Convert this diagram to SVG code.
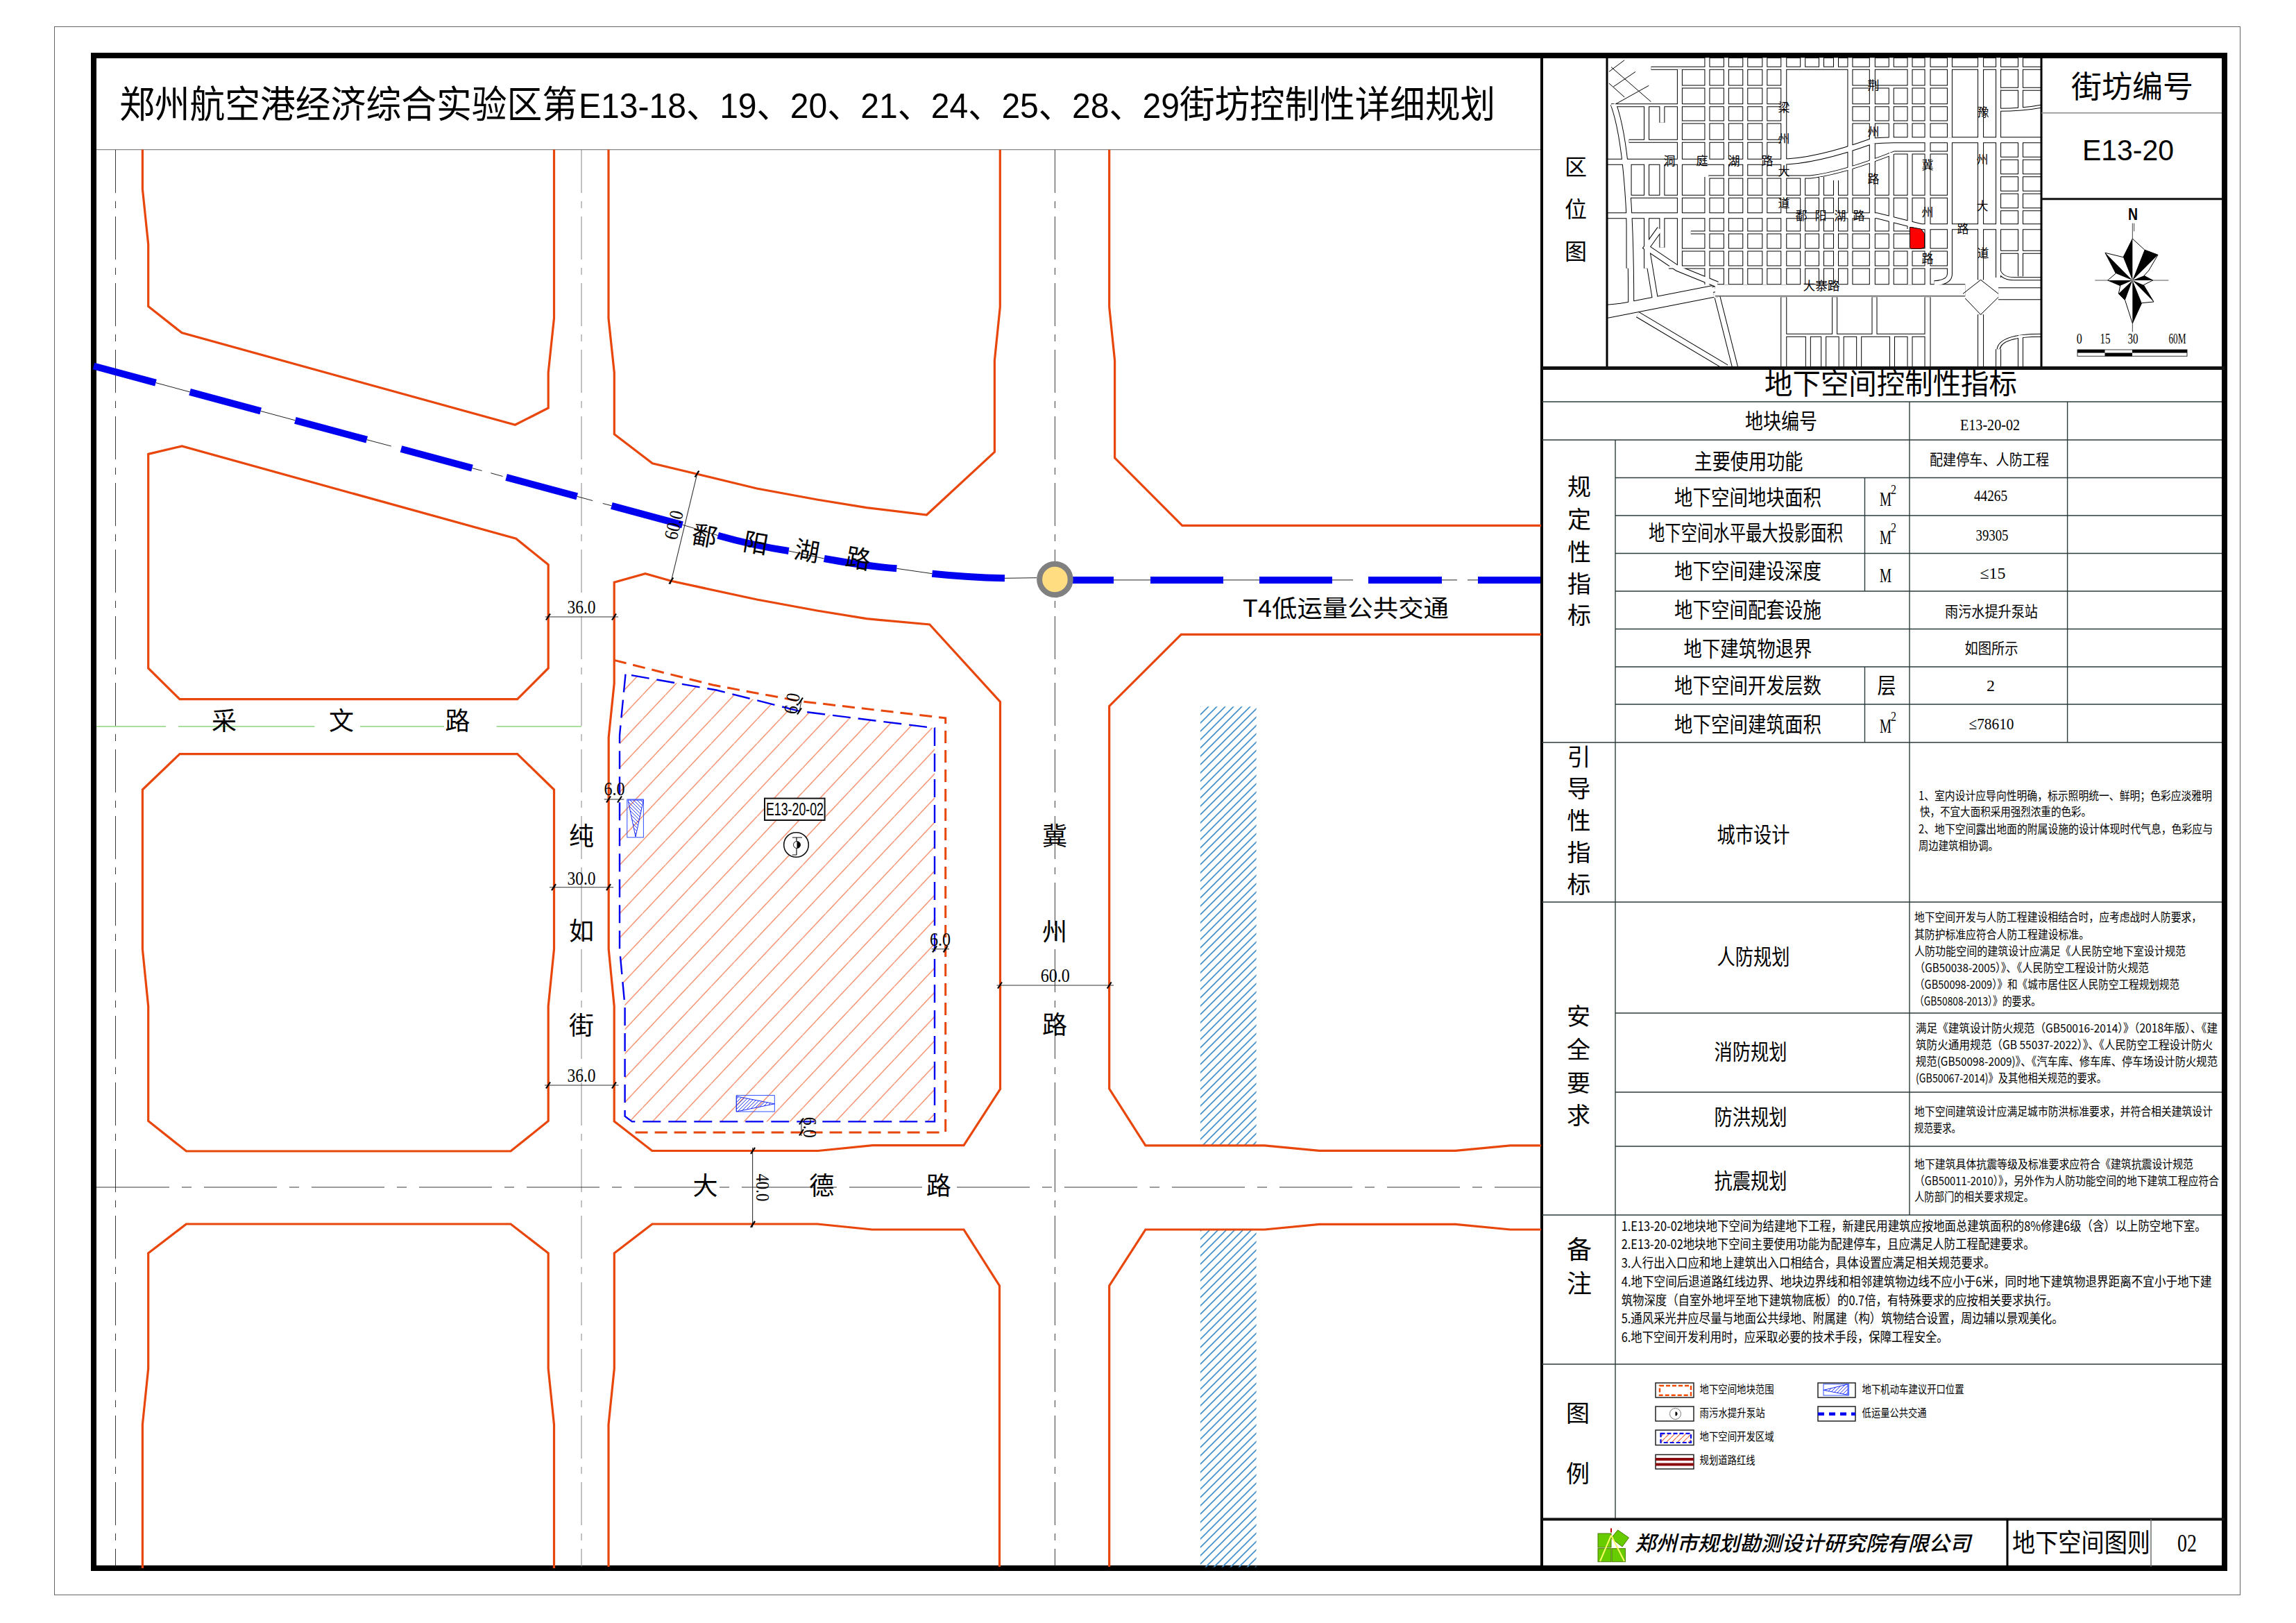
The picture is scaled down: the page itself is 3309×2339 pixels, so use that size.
<svg xmlns="http://www.w3.org/2000/svg" xmlns:xlink="http://www.w3.org/1999/xlink" width="3309" height="2339" viewBox="0 0 3309 2339">
<style>
text{font-family:"Noto Sans CJK SC","Liberation Sans",sans-serif;fill:#000}
.c{text-anchor:middle}
.n{font-family:"Liberation Serif","Noto Sans CJK SC",serif}
.road{font-size:36px;text-anchor:middle}
.dim{font-family:"Liberation Serif",serif;font-size:28px;text-anchor:middle}
.lab{font-size:31px;text-anchor:middle}
.val{font-size:21.5px;text-anchor:middle}
.num{font-family:"Liberation Serif","Noto Sans CJK SC",serif;font-size:24px;text-anchor:middle}
.side{font-size:34px;text-anchor:middle}
.body{font-size:17px}
.note{font-size:19px}
.leg{font-size:16px}
.unit{font-family:"Liberation Serif",serif;font-size:29px}
.sup{font-family:"Liberation Serif",serif;font-size:18px}
.red{fill:none;stroke:#e8460a;stroke-width:3.2;stroke-linejoin:miter}
.cl{fill:none;stroke:#222;stroke-width:0.9}
.tl{fill:none;stroke:#2b3a3a;stroke-width:1.4}
.blue{fill:none;stroke:#0000f0;stroke-width:10}
.thin{fill:none;stroke:#222;stroke-width:1}
.dl{fill:none;stroke:#333;stroke-width:1.1}
.box{fill:#fff;stroke:#222;stroke-width:1.5}
</style>
<defs>
<pattern id="hOrange" width="33" height="35" patternUnits="userSpaceOnUse" patternTransform="translate(893,1211.6)"><path d="M-3.3,38.5L36.3,-3.5" stroke="#f0683a" stroke-width="1.1" fill="none"/></pattern>
<pattern id="hOrangeS" width="8" height="8" patternUnits="userSpaceOnUse"><path d="M-1,9L9,-1" stroke="#f0683a" stroke-width="1.2" fill="none"/></pattern>
<pattern id="hBlue" width="12" height="12" patternUnits="userSpaceOnUse"><path d="M-1,13L13,-1M-3,3L3,-3M9,15L15,9" stroke="#3f8fc8" stroke-width="1.6" fill="none"/></pattern>
<pattern id="hRamp" width="5" height="5" patternUnits="userSpaceOnUse"><path d="M-1,6L6,-1" stroke="#1a2cff" stroke-width="0.9" fill="none"/></pattern>
<pattern id="hRampB" width="5" height="5" patternUnits="userSpaceOnUse"><path d="M-1,-1L6,6" stroke="#1a2cff" stroke-width="0.9" fill="none"/></pattern>
<path id="t" d="M-3,4.5L3,-4.5" stroke="#000" stroke-width="2.2" fill="none"/>
<path id="mH" vector-effect="non-scaling-stroke" fill="none" d="M250,85H1132M320,165H548M700,165H925M1040,175H1132M160,245H548M700,245H925M1035,265Q1090,265 1132,250M320,318H548M700,318H925M200,400H548M380,555H610Q680,540 800,450H925M200,640H925M1035,475H1132M1035,548H1132M1035,622H1132M1035,695H1132M340,795H838M320,870H925M1035,880H1132M290,945H925M555,1240H870M1035,950Q1040,995 1070,995H1132M1132,1240Q1040,1240 1035,1300"/>
<path id="mV" vector-effect="non-scaling-stroke" fill="none" d="M315,90V950M377,40V490M377,555V1020M420,40V1020M463,40V1020M507,40V1020M593,40V85M593,555V1030M635,40V85M635,555V1030M668,40V85M668,570V1030M700,40V1030M793,40V85M793,165V395M793,450V1030M835,40V395M835,450V780M835,870V1020M925,40V385M925,405V975Q925,1010 890,1015M1035,40V990M1085,40V260M1085,400V985M665,1075V1240M755,1075V1240M605,1240V1378M640,1240V1378M680,1240V1378M720,1240V1378M795,1240V1378M835,1240V1378M1035,1300V1378M1085,1240V1378M240,245V400M275,245V320M240,490V640M275,490V640M200,490V640M200,720V950M240,720V950M275,720V860"/>
<path id="mM" vector-effect="non-scaling-stroke" fill="none" d="M150,490H540Q620,490 750,400Q770,395 800,395H1132M150,722H760L860,770H1132M550,40V1020M550,1075V1378M750,40V1030M875,40V1030M875,1075V1378M995,40V1000M995,1150V1378M165,240Q205,450 205,1110M150,1150L395,1040M400,1075L440,1378M220,1150L420,1378M270,780L240,860L310,950L400,1020M150,1120L215,1108M240,860L260,1090"/>
<path id="mW" vector-effect="non-scaling-stroke" fill="none" d="M395,1045H960M1035,1060H1132M150,1140L390,1050"/>
</defs>
<rect width="3309" height="2339" fill="#fff"/>

<g id="frame">
<rect x="78.5" y="38.5" width="3150" height="2260" fill="none" stroke="#666" stroke-width="1"/>
<rect x="135" y="80" width="3071" height="2180" fill="none" stroke="#000" stroke-width="8"/>
<path d="M139,215.6H2222" stroke="#888" stroke-width="1.4" fill="none"/>
<path d="M2222,80V2260" stroke="#000" stroke-width="4" fill="none"/>
</g>
<text id="title" y="170" font-size="54"><tspan x="172" textLength="660" lengthAdjust="spacingAndGlyphs">郑州航空港经济综合实验区第</tspan><tspan x="834" textLength="866" lengthAdjust="spacingAndGlyphs" font-size="50" style="font-family:'Liberation Sans','Noto Sans CJK SC',sans-serif">E13-18、19、20、21、24、25、28、29</tspan><tspan x="1700" textLength="455" lengthAdjust="spacingAndGlyphs">街坊控制性详细规划</tspan></text>

<g id="map">
<rect x="1730" y="1018.3" width="80.6" height="632.5" fill="url(#hBlue)"/>
<rect x="1730" y="1772" width="80.6" height="486.5" fill="url(#hBlue)"/>
<g id="centerlines">
<path class="cl" d="M166.5,216V2258" stroke-dasharray="62 12 10 12"/>
<path class="cl" d="M838,216V2258" style="stroke:#777" stroke-dasharray="62 12 10 12"/>
<path class="cl" d="M1520.4,216V2258" stroke-dasharray="62 12 10 12"/>
<path class="cl" d="M139,1711H2220" stroke-dasharray="105 18 14 18"/>
<path fill="none" stroke="#55c03a" stroke-width="1.1" d="M139,1047H239M257,1047H453.5M519,1047H640M715.6,1047H838"/>
</g>
<g id="blocks">
<path class="red" d="M205.4,215.6V272.4L213.7,352V441.4L262,479.6L742.4,612.3L790.2,588V537L798.5,458.6V215.6"/>
<path class="red" d="M213.7,654.4L262.2,643L743.7,776.2L790.2,813.8V963L745.6,1007.7H259L213.7,963Z"/>
<path class="red" d="M259,1086.6H745.6L798.5,1138V1368L790.2,1450V1615.6L736,1659H268.5L213.7,1615.6V1450L205.4,1368V1138Z"/>
<path class="red" d="M205.4,2260V2053L213.7,1972.5V1806L268.5,1764H736L790.2,1806V1972.5L798.5,2053V2260"/>
<path class="red" d="M877,215.6V458.6L885.3,537V625.7L940.3,667.7L1004,683L1090.8,704L1177.6,720L1249,731.7L1335.5,742L1433.4,651.4V519.5L1441.3,442.3V215.7"/>
<path class="red" d="M1598.7,215.7V442.3L1606.6,519.5V659.8L1703.8,757.3H2221"/>
<path class="red" d="M885.2,953V839.3L930,826.7L967.3,837.3L1090.8,864L1177.6,880L1249,891.7L1339.8,900L1441.5,1011.4V1569.5L1389,1650.6H1257.5L1179,1658.5H939.8L885.2,1616V1450L877.2,1368V1062.5L885.2,984.8Z"/>
<path class="red" d="M2221,914.4H1702.3L1598.7,1017.6V1569L1650.9,1650.8H1822.5L1901.5,1658.4H2097.7L2176.7,1650.8H2221"/>
<path class="red" d="M877,2258V2053L885.3,1972.5V1806L940,1764H1178L1257,1772H1389L1440.5,1853V2258"/>
<path class="red" d="M1598.7,2258V1853L1650.9,1772H1822.5L1901.5,1764.3H2097.7L2176.7,1772H2221"/>
</g>
<g id="site">
<path d="M901.5,971.7L896.2,1026L893,1060V1367.8L900.6,1450V1608.7L910.9,1616.4H1347V1049.3L1152.9,1025L1032.3,994.5Z" fill="url(#hOrange)"/>
<path d="M885,951.4L1027.9,987.3L1152.9,1010.5L1362.7,1034.8V1632H907.3" fill="none" stroke="#e8460a" stroke-width="3" stroke-dasharray="18 10"/>
<path d="M901.5,971.7L896.2,1026L893,1060V1367.8L900.6,1450V1608.7L910.9,1616.4H1347V1049.3L1152.9,1025L1032.3,994.5Z" fill="none" stroke="#0000f0" stroke-width="2.4" stroke-dasharray="26 11"/>
<rect x="903.8" y="1152" width="23.6" height="54.8" fill="none" stroke="#3050ff" stroke-width="1"/>
<path d="M905,1153H927.4L916,1206Z" fill="url(#hRampB)" stroke="#1a2cff" stroke-width="1"/>
<rect x="1061.3" y="1578.6" width="55" height="23.4" fill="none" stroke="#3050ff" stroke-width="1"/>
<path d="M1061.3,1580L1116.3,1590.8L1061.3,1602Z" fill="url(#hRamp)" stroke="#1a2cff" stroke-width="1"/>
<rect x="1102" y="1150.6" width="86.6" height="31.4" fill="#fff" stroke="#111" stroke-width="2"/>
<text x="1104" y="1175" font-size="25" textLength="83" lengthAdjust="spacingAndGlyphs" style="font-family:'Liberation Sans',sans-serif">E13-20-02</text>
<circle cx="1147.5" cy="1217.5" r="17.8" fill="#fff" stroke="#111" stroke-width="1.6"/>
<path d="M1142,1207H1156M1148,1207V1232M1142,1232H1148" stroke="#111" stroke-width="1.2" fill="none"/>
<circle cx="1148.5" cy="1217.5" r="5" fill="#fff" stroke="#111" stroke-width="1"/>
<path d="M1148.5,1212.5A5,5 0 0 1 1148.5,1222.5Z" fill="#000"/>
</g>
<g id="transit">
<path class="thin" d="M224.5,551.6L273.6,564.9M375.7,592.4L425.4,605.8M528.7,633.7L563.8,643M680.5,674.6L694.6,678.4M707.3,681.7L724.5,686.5M831.7,715.4L854,721.5M868.7,725.5L881.4,728.8M983.5,756.3L1034.7,771.7M1136.7,794L1187.8,805M1292.3,819.3L1343.4,826.7M1448,833.3L1494,832.7M1605,835.9H1658M1763,835.9H1815M1920,835.9H1950M2078,835.9H2100M2115,835.9H2130"/>
<path class="blue" d="M135,527.5L224.5,551.6M273.6,564.9L375.7,592.4M425.4,605.8L528.7,633.7M578,647L680.5,674.6M729.6,687.9L831.7,715.4M881.4,728.8L983.5,756.3M1034.7,771.7Q1085,786 1136.7,794M1187.8,805Q1240,815 1292.3,819.3M1343.4,826.7Q1394,832 1448,833.3M1545,835.9H1605M1658,835.9H1763M1815,835.9H1920M1972,835.9H2078M2130,835.9H2220"/>
<circle cx="1520.4" cy="835" r="22.3" fill="#ffdd80" stroke="#808080" stroke-width="8"/>
<text x="1791" y="889" font-size="34" textLength="297" lengthAdjust="spacingAndGlyphs">T4低运量公共交通</text>
</g>
<g id="road-labels">
<text class="road" x="323" y="1052">采</text><text class="road" x="492" y="1052">文</text><text class="road" x="659.5" y="1052">路</text>
<text class="road" x="838" y="1218">纯</text><text class="road" x="838" y="1355">如</text><text class="road" x="838" y="1491">街</text>
<text class="road" x="1520" y="1218">冀</text><text class="road" x="1520" y="1356">州</text><text class="road" x="1520" y="1490">路</text>
<text class="road" x="1016.6" y="1722">大</text><text class="road" x="1184.3" y="1722">德</text><text class="road" x="1352.7" y="1722">路</text>
<text class="road" transform="translate(1015.3,772.3) rotate(10)" y="13">鄱</text>
<text class="road" transform="translate(1089.3,782.7) rotate(10)" y="13">阳</text>
<text class="road" transform="translate(1163,794) rotate(10)" y="13">湖</text>
<text class="road" transform="translate(1237,805) rotate(10)" y="13">路</text>
</g>
<g id="dimensions">
<path class="dl" d="M785.8,889H891M792,1278.7H884M785,1564H891.6M870.7,1152H899.3M1342.6,1367.8H1368M1155,1009L1152,1026M1155,1612.5V1637M1005.6,679.3L966.3,841.7M1436.5,1420H1605M1084.6,1654V1768.8"/>
<use xlink:href="#t" href="#t" x="790" y="889"/><use xlink:href="#t" href="#t" x="885" y="889"/>
<use xlink:href="#t" href="#t" x="798" y="1278.7"/><use xlink:href="#t" href="#t" x="877" y="1278.7"/>
<use xlink:href="#t" href="#t" x="790" y="1564"/><use xlink:href="#t" href="#t" x="885" y="1564"/>
<use xlink:href="#t" href="#t" x="877" y="1152"/><use xlink:href="#t" href="#t" x="893" y="1152"/>
<use xlink:href="#t" href="#t" x="1347" y="1367.8"/><use xlink:href="#t" href="#t" x="1362.7" y="1367.8"/>
<use xlink:href="#t" href="#t" x="1154" y="1010"/><use xlink:href="#t" href="#t" x="1152" y="1025"/>
<use xlink:href="#t" href="#t" x="1155" y="1616"/><use xlink:href="#t" href="#t" x="1155" y="1632"/>
<use xlink:href="#t" href="#t" x="1004.5" y="683"/><use xlink:href="#t" href="#t" x="967.3" y="837"/>
<use xlink:href="#t" href="#t" x="1441" y="1420"/><use xlink:href="#t" href="#t" x="1598.7" y="1420"/>
<use xlink:href="#t" href="#t" x="1085" y="1658.4"/><use xlink:href="#t" href="#t" x="1085" y="1764.3"/>
<text class="dim" x="838" y="884" textLength="41" lengthAdjust="spacingAndGlyphs">36.0</text>
<text class="dim" x="838" y="1274.7" textLength="41" lengthAdjust="spacingAndGlyphs">30.0</text>
<text class="dim" x="838" y="1559" textLength="41" lengthAdjust="spacingAndGlyphs">36.0</text>
<text class="dim" x="885.6" y="1146" textLength="30" lengthAdjust="spacingAndGlyphs">6.0</text>
<text class="dim" x="1355" y="1363" textLength="30" lengthAdjust="spacingAndGlyphs">6.0</text>
<text class="dim" x="1520.8" y="1414.8" textLength="42" lengthAdjust="spacingAndGlyphs">60.0</text>
<text class="dim" transform="translate(1141.7,1014) rotate(-80)" y="9" textLength="30" lengthAdjust="spacingAndGlyphs">6.0</text>
<text class="dim" transform="translate(1167,1624.7) rotate(90)" y="9" textLength="30" lengthAdjust="spacingAndGlyphs">6.0</text>
<text class="dim" transform="translate(971.4,756.7) rotate(-76.5)" y="9" textLength="42" lengthAdjust="spacingAndGlyphs">60.0</text>
<text class="dim" transform="translate(1098.9,1711.4) rotate(90)" y="9" textLength="40" lengthAdjust="spacingAndGlyphs">40.0</text>
</g>
</g>

<g id="locator">
<clipPath id="mc"><rect x="2316" y="83" width="626" height="446"/></clipPath>
<g clip-path="url(#mc)">
<g transform="translate(2220,70) scale(0.63776,0.33333)">
<use xlink:href="#mH" href="#mH" stroke="#000" stroke-width="5"/>
<use xlink:href="#mV" href="#mV" stroke="#000" stroke-width="8"/>
<use xlink:href="#mM" href="#mM" stroke="#000" stroke-width="9"/>
<use xlink:href="#mW" href="#mW" stroke="#000" stroke-width="18"/>
<use xlink:href="#mH" href="#mH" stroke="#fff" stroke-width="3"/>
<use xlink:href="#mV" href="#mV" stroke="#fff" stroke-width="6"/>
<use xlink:href="#mM" href="#mM" stroke="#fff" stroke-width="7"/>
<use xlink:href="#mW" href="#mW" stroke="#fff" stroke-width="16"/>
<path vector-effect="non-scaling-stroke" fill="none" stroke="#000" stroke-width="1" d="M955,1060L995,1000L1035,1060M960,1080L995,1150L1035,1075M160,80L250,230M155,150L190,210M190,50L155,100M215,100L165,165M245,160L170,240"/>
<path d="M835,772L860,780L868,800V860L860,865H838L835,860Z" fill="#f00" stroke="#000" stroke-width="1" vector-effect="non-scaling-stroke"/>
</g>
</g>
<g font-size="17" text-anchor="middle">
<text x="2571" y="161">梁</text><text x="2571" y="206">州</text><text x="2571" y="253">大</text><text x="2571" y="299">道</text>
<text x="2700" y="129">荆</text><text x="2700" y="196">州</text><text x="2700" y="264">路</text>
<text x="2858" y="168">豫</text><text x="2857" y="236">州</text><text x="2857" y="303">大</text><text x="2858" y="371">道</text>
<text x="2778" y="244">冀</text><text x="2778" y="312">州</text><text x="2778" y="379">路</text>
<text x="2829" y="336">路</text>
<text x="2406" y="238">洞</text><text x="2453" y="238">庭</text><text x="2499" y="238">湖</text><text x="2547" y="238">路</text>
<text x="2596" y="317">鄱</text><text x="2624" y="317">阳</text><text x="2652" y="317">湖</text><text x="2679" y="317">路</text>
<text x="2625" y="418" font-size="17.5" textLength="53" lengthAdjust="spacingAndGlyphs">大寨路</text>
</g>
<path d="M2316,83V530M2942,83V530" stroke="#000" stroke-width="3" fill="none"/>
<text class="side" x="2271" y="252" style="font-size:32px">区</text><text class="side" x="2271" y="313" style="font-size:32px">位</text><text class="side" x="2271" y="374" style="font-size:32px">图</text>
</g>

<g id="block-id">
<path d="M2942,162.7H3202" stroke="#888" stroke-width="1.5" fill="none"/>
<path d="M2942,286.7H3202" stroke="#111" stroke-width="3" fill="none"/>
<text class="c" x="3073" y="141" font-size="44">街坊编号</text>
<text class="c" x="3067" y="231" font-size="42" textLength="132" lengthAdjust="spacingAndGlyphs" style="font-family:'Liberation Sans',sans-serif">E13-20</text>
</g>

<g id="compass">
<g transform="translate(2940,280) scale(0.33333)">
<path d="M238,372H556" stroke="#555" stroke-width="3" fill="none"/>
<path d="M400,125V192M407,125V160M400,558V595" stroke="#444" stroke-width="3" fill="none"/>
<path d="M400,192L452,240L510,262L470,330L450,352L488,372L448,392L492,465L440,470L400,558L368,458L340,430L347,395L293,372L328,342L282,253L360,272Z" fill="#fff" stroke="#000" stroke-width="3"/>
<path d="M400,372V192L360,272ZM400,372L452,240L510,262ZM400,372L282,253L328,342ZM400,372L450,352L488,372ZM400,372L448,392L492,465ZM400,372L440,470L400,558ZM400,372L368,458L340,430ZM400,372L347,395L293,372Z" fill="#000"/>
</g>
<text class="c" x="3074" y="317" font-size="24" font-weight="700" style="font-family:'Liberation Sans',sans-serif" textLength="14" lengthAdjust="spacingAndGlyphs">N</text>
<text class="n c" x="2996.7" y="495" font-size="22" textLength="8" lengthAdjust="spacingAndGlyphs">0</text>
<text class="n c" x="3034" y="495" font-size="22" textLength="15" lengthAdjust="spacingAndGlyphs">15</text>
<text class="n c" x="3074" y="495" font-size="22" textLength="15" lengthAdjust="spacingAndGlyphs">30</text>
<text class="n c" x="3138" y="495" font-size="22" textLength="25" lengthAdjust="spacingAndGlyphs">60M</text>
<rect x="2994" y="504" width="158" height="9.3" fill="#fff" stroke="#333" stroke-width="1"/>
<path d="M2994,504h39.5v4.6h-39.5zM3033.5,508.6h39.5v4.7h-39.5zM3073,504h79v4.6h-79z" fill="#000"/>
</g>

<g id="table-lines">
<path d="M2222,530.5H3206" stroke="#111" stroke-width="5" fill="none"/>
<path class="tl" d="M2222,579H3202M2222,634H3202M2328,688.5H3202M2328,743H3202M2328,797.5H3202M2328,852H3202M2328,906.5H3202M2328,961H3202M2328,1015H3202M2222,1070H3202M2222,1300H3202M2328,1460H3202M2328,1574H3202M2328,1652H3202M2222,1751H3202M2222,1966H3202"/>
<path class="tl" d="M2328,634V2189M2687.5,688.5V852M2687.5,961V1070M2752,579V1751M2979.6,579V1070"/>
<path d="M2222,2189.4H3206" stroke="#111" stroke-width="4" fill="none"/>
<path d="M2893,2189V2258" stroke="#000" stroke-width="3" fill="none"/>
<path d="M3100,2189V2258" stroke="#666" stroke-width="1.4" fill="none"/>
</g>

<g id="indicators">
<text class="c" x="2725" y="568" font-size="42" textLength="364" lengthAdjust="spacingAndGlyphs">地下空间控制性指标</text>
<text class="lab" x="2567" y="618" textLength="104" lengthAdjust="spacingAndGlyphs">地块编号</text>
<text class="num" x="2868" y="620" textLength="86" lengthAdjust="spacingAndGlyphs">E13-20-02</text>
<text class="side" x="2276" y="714">规</text><text class="side" x="2276" y="761">定</text><text class="side" x="2276" y="808">性</text><text class="side" x="2276" y="854">指</text><text class="side" x="2276" y="899">标</text>
<text class="lab" x="2520" y="676" textLength="157" lengthAdjust="spacingAndGlyphs">主要使用功能</text>
<text class="lab" x="2519" y="728" textLength="212" lengthAdjust="spacingAndGlyphs">地下空间地块面积</text>
<text class="lab" x="2516" y="779" textLength="280" lengthAdjust="spacingAndGlyphs">地下空间水平最大投影面积</text>
<text class="lab" x="2519" y="834" textLength="212" lengthAdjust="spacingAndGlyphs">地下空间建设深度</text>
<text class="lab" x="2519" y="890" textLength="212" lengthAdjust="spacingAndGlyphs">地下空间配套设施</text>
<text class="lab" x="2519" y="946" textLength="185" lengthAdjust="spacingAndGlyphs">地下建筑物退界</text>
<text class="lab" x="2519" y="999" textLength="212" lengthAdjust="spacingAndGlyphs">地下空间开发层数</text>
<text class="lab" x="2519" y="1055" textLength="212" lengthAdjust="spacingAndGlyphs">地下空间建筑面积</text>
<text class="unit" x="2709" y="729" textLength="17" lengthAdjust="spacingAndGlyphs">M</text><text class="sup" x="2725" y="712" textLength="8" lengthAdjust="spacingAndGlyphs">2</text>
<text class="unit" x="2709" y="784" textLength="17" lengthAdjust="spacingAndGlyphs">M</text><text class="sup" x="2725" y="767" textLength="8" lengthAdjust="spacingAndGlyphs">2</text>
<text class="unit" x="2709" y="839" textLength="17" lengthAdjust="spacingAndGlyphs">M</text>
<text class="unit" x="2709" y="1056" textLength="17" lengthAdjust="spacingAndGlyphs">M</text><text class="sup" x="2725" y="1039" textLength="8" lengthAdjust="spacingAndGlyphs">2</text>
<text class="lab" x="2719" y="999" textLength="27" lengthAdjust="spacingAndGlyphs">层</text>
<text class="val" x="2867" y="670" textLength="172" lengthAdjust="spacingAndGlyphs">配建停车、人防工程</text>
<text class="num" x="2869" y="722" textLength="48" lengthAdjust="spacingAndGlyphs">44265</text>
<text class="num" x="2871" y="779" textLength="47" lengthAdjust="spacingAndGlyphs">39305</text>
<text class="num" x="2872" y="834" textLength="37" lengthAdjust="spacingAndGlyphs">≤15</text>
<text class="val" x="2870" y="889" textLength="134" lengthAdjust="spacingAndGlyphs">雨污水提升泵站</text>
<text class="val" x="2870" y="942" textLength="77" lengthAdjust="spacingAndGlyphs">如图所示</text>
<text class="num" x="2869" y="996">2</text>
<text class="num" x="2870" y="1051" textLength="65" lengthAdjust="spacingAndGlyphs">≤78610</text>
</g>

<g id="guidance">
<text class="side" x="2275.5" y="1103">引</text><text class="side" x="2275.5" y="1149">导</text><text class="side" x="2275.5" y="1195">性</text><text class="side" x="2275.5" y="1241">指</text><text class="side" x="2275.5" y="1287">标</text>
<text class="lab" x="2527" y="1214" textLength="105" lengthAdjust="spacingAndGlyphs">城市设计</text>
<text class="body" x="2765" y="1153" textLength="423" lengthAdjust="spacingAndGlyphs">1、室内设计应导向性明确，标示照明统一、鲜明；色彩应淡雅明</text>
<text class="body" x="2767" y="1176" textLength="247" lengthAdjust="spacingAndGlyphs">快，不宜大面积采用强烈浓重的色彩。</text>
<text class="body" x="2765" y="1200.5" textLength="424" lengthAdjust="spacingAndGlyphs">2、地下空间露出地面的附属设施的设计体现时代气息，色彩应与</text>
<text class="body" x="2765" y="1224.5" textLength="115" lengthAdjust="spacingAndGlyphs">周边建筑相协调。</text>
</g>

<g id="safety">
<text class="side" x="2275" y="1477">安</text><text class="side" x="2275" y="1525">全</text><text class="side" x="2275" y="1573">要</text><text class="side" x="2275" y="1620">求</text>
<text class="lab" x="2527" y="1390" textLength="105" lengthAdjust="spacingAndGlyphs">人防规划</text>
<text class="lab" x="2523" y="1527" textLength="105" lengthAdjust="spacingAndGlyphs">消防规划</text>
<text class="lab" x="2523" y="1621" textLength="105" lengthAdjust="spacingAndGlyphs">防洪规划</text>
<text class="lab" x="2523" y="1713" textLength="105" lengthAdjust="spacingAndGlyphs">抗震规划</text>
<text class="body" x="2759" y="1328" textLength="414" lengthAdjust="spacingAndGlyphs">地下空间开发与人防工程建设相结合时，应考虑战时人防要求，</text>
<text class="body" x="2759" y="1353" textLength="252" lengthAdjust="spacingAndGlyphs">其防护标准应符合人防工程建设标准。</text>
<text class="body" x="2759" y="1377" textLength="391" lengthAdjust="spacingAndGlyphs">人防功能空间的建筑设计应满足《人民防空地下室设计规范</text>
<text class="body" x="2759" y="1401" textLength="338" lengthAdjust="spacingAndGlyphs">（GB50038-2005）》、《人民防空工程设计防火规范</text>
<text class="body" x="2759" y="1425" textLength="382" lengthAdjust="spacingAndGlyphs">（GB50098-2009）》和《城市居住区人民防空工程规划规范</text>
<text class="body" x="2759" y="1448.5" textLength="182" lengthAdjust="spacingAndGlyphs">（GB50808-2013）》的要求。</text>
<text class="body" x="2761" y="1487.5" textLength="435" lengthAdjust="spacingAndGlyphs">满足《建筑设计防火规范（GB50016-2014）》（2018年版）、《建</text>
<text class="body" x="2761" y="1512" textLength="428" lengthAdjust="spacingAndGlyphs">筑防火通用规范（GB 55037-2022）》、《人民防空工程设计防火</text>
<text class="body" x="2761" y="1536" textLength="435" lengthAdjust="spacingAndGlyphs">规范(GB50098-2009)》、《汽车库、修车库、停车场设计防火规范</text>
<text class="body" x="2761" y="1560" textLength="275" lengthAdjust="spacingAndGlyphs">(GB50067-2014)》及其他相关规范的要求。</text>
<text class="body" x="2759" y="1608" textLength="430" lengthAdjust="spacingAndGlyphs">地下空间建筑设计应满足城市防洪标准要求，并符合相关建筑设计</text>
<text class="body" x="2759" y="1631.5" textLength="67" lengthAdjust="spacingAndGlyphs">规范要求。</text>
<text class="body" x="2759" y="1683.5" textLength="402" lengthAdjust="spacingAndGlyphs">地下建筑具体抗震等级及标准要求应符合《建筑抗震设计规范</text>
<text class="body" x="2759" y="1707.5" textLength="439" lengthAdjust="spacingAndGlyphs">（GB50011-2010）》，另外作为人防功能空间的地下建筑工程应符合</text>
<text class="body" x="2759" y="1731" textLength="172" lengthAdjust="spacingAndGlyphs">人防部门的相关要求规定。</text>
</g>

<g id="notes">
<text x="2276" y="1814" font-size="36" class="c">备</text><text x="2276" y="1863" font-size="36" class="c">注</text>
<text class="note" x="2336.7" y="1774" textLength="843" lengthAdjust="spacingAndGlyphs">1.E13-20-02地块地下空间为结建地下工程，新建民用建筑应按地面总建筑面积的8%修建6级（含）以上防空地下室。</text>
<text class="note" x="2336.7" y="1800" textLength="596" lengthAdjust="spacingAndGlyphs">2.E13-20-02地块地下空间主要使用功能为配建停车，且应满足人防工程配建要求。</text>
<text class="note" x="2336.7" y="1827" textLength="539" lengthAdjust="spacingAndGlyphs">3.人行出入口应和地上建筑出入口相结合，具体设置应满足相关规范要求。</text>
<text class="note" x="2336.7" y="1854" textLength="851" lengthAdjust="spacingAndGlyphs">4.地下空间后退道路红线边界、地块边界线和相邻建筑物边线不应小于6米，同时地下建筑物退界距离不宜小于地下建</text>
<text class="note" x="2336.7" y="1880.6" textLength="629" lengthAdjust="spacingAndGlyphs">筑物深度（自室外地坪至地下建筑物底板）的0.7倍，有特殊要求的应按相关要求执行。</text>
<text class="note" x="2336.7" y="1907" textLength="637" lengthAdjust="spacingAndGlyphs">5.通风采光井应尽量与地面公共绿地、附属建（构）筑物结合设置，周边辅以景观美化。</text>
<text class="note" x="2336.7" y="1933.6" textLength="471" lengthAdjust="spacingAndGlyphs">6.地下空间开发利用时，应采取必要的技术手段，保障工程安全。</text>
</g>

<g id="legend">
<text class="side" x="2274" y="2049">图</text><text class="side" x="2274" y="2136">例</text>
<rect class="box" x="2386" y="1993" width="55" height="21"/>
<rect x="2392" y="1997" width="45" height="13.7" fill="none" stroke="#f04a00" stroke-width="2.4" stroke-dasharray="6 3"/>
<rect class="box" x="2386" y="2027" width="55" height="21"/>
<circle cx="2414.5" cy="2037.5" r="8" fill="#fff" stroke="#777" stroke-width="1"/>
<path d="M2414.5,2034.5a3,3 0 0 1 0,6z" fill="#000"/>
<rect class="box" x="2386" y="2061" width="55" height="21.6"/>
<rect x="2393.5" y="2065.8" width="43.5" height="13.2" fill="url(#hOrangeS)" stroke="#0000f0" stroke-width="2.2" stroke-dasharray="6 3"/>
<rect class="box" x="2386" y="2096.4" width="55" height="20.6"/>
<path d="M2386,2103H2441M2386,2110.5H2441" stroke="#8b0a0a" stroke-width="4" fill="none"/>
<text class="leg" x="2449.6" y="2007.5" textLength="107" lengthAdjust="spacingAndGlyphs">地下空间地块范围</text>
<text class="leg" x="2449.6" y="2042" textLength="94" lengthAdjust="spacingAndGlyphs">雨污水提升泵站</text>
<text class="leg" x="2449.6" y="2076" textLength="107" lengthAdjust="spacingAndGlyphs">地下空间开发区域</text>
<text class="leg" x="2449.6" y="2110" textLength="80" lengthAdjust="spacingAndGlyphs">规划道路红线</text>
<rect class="box" x="2620" y="1993" width="54" height="21"/>
<rect x="2628" y="1994.8" width="36.5" height="16.2" fill="none" stroke="#3050ff" stroke-width="1"/>
<path d="M2628,2003.4L2663,1995V2010.3Z" fill="url(#hRamp)" stroke="#1a2cff" stroke-width="1"/>
<rect class="box" x="2620" y="2027" width="54" height="21"/>
<path d="M2620,2037.8H2674" stroke="#0000f0" stroke-width="4.6" stroke-dasharray="9 7" fill="none"/>
<text class="leg" x="2683.6" y="2007.5" textLength="147" lengthAdjust="spacingAndGlyphs">地下机动车建议开口位置</text>
<text class="leg" x="2683.6" y="2042" textLength="93" lengthAdjust="spacingAndGlyphs">低运量公共交通</text>
</g>

<g id="titleblock">
<g id="logo">
<rect x="2303" y="2210" width="19" height="20" fill="#66cc00" stroke="#4a7a00" stroke-width="1"/>
<rect x="2303" y="2231.7" width="19" height="19" fill="#66cc00" stroke="#4a7a00" stroke-width="1"/>
<rect x="2323" y="2231.7" width="19.4" height="19" fill="#66cc00" stroke="#4a7a00" stroke-width="1"/>
<path d="M2331.6,2205L2347.5,2216L2338,2229L2322,2216.7Z" fill="#66cc00" stroke="#4a7a00" stroke-width="1"/>
<path d="M2322,2212.7L2306,2250M2322,2212.7L2341,2250" stroke="#ffff66" stroke-width="2" fill="none"/>
<path d="M2322,2202.5V2208.5" stroke="#c00000" stroke-width="2" fill="none"/>
</g>
<text x="2356" y="2235" font-size="30" font-style="italic" font-weight="500" textLength="484" lengthAdjust="spacingAndGlyphs">郑州市规划勘测设计研究院有限公司</text>
<text x="2900" y="2237" font-size="37" textLength="199" lengthAdjust="spacingAndGlyphs">地下空间图则</text>
<text class="n c" x="3152" y="2236" font-size="36" textLength="28" lengthAdjust="spacingAndGlyphs">02</text>
</g>
</svg>
